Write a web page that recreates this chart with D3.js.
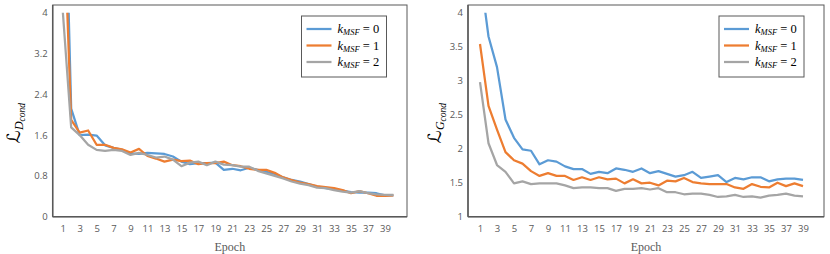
<!DOCTYPE html>
<head>
  <meta charset="utf-8" />
  <title>loss curves</title>
  <script src="https://d3js.org/d3.v7.min.js"></script>
  <style>
    body { margin: 0; background: #fff; }
    svg { display: block; }
    .tick text { font-family: "Open Sans", "Liberation Sans", sans-serif; font-size: 9.5px; fill: #595959; }
    .serif { font-family: "Liberation Serif", "DejaVu Serif", serif; }
  </style>
</head>
<body>
<script>
  const seriesNames = ["0", "1", "2"];
  const colors = ["#5b9bd5", "#ed7d31", "#a5a5a5"];

  // left chart: L_D_cond, 40 epochs
  const dEpochs = d3.range(1, 41);
  const dBlue = [8.5, 2.12, 1.6, 1.61, 1.59, 1.4, 1.35, 1.31, 1.24, 1.23, 1.25, 1.24, 1.23, 1.18, 1.08, 1.03, 1.05, 1.05, 1.06, 0.92,
    0.94, 0.91, 0.96, 0.92, 0.88, 0.84, 0.77, 0.72, 0.69, 0.64, 0.59, 0.56, 0.54, 0.51, 0.48, 0.47, 0.47, 0.46, 0.42, 0.42];
  const dOrange = [6.5, 1.9, 1.65, 1.69, 1.41, 1.41, 1.35, 1.32, 1.26, 1.33, 1.19, 1.14, 1.08, 1.12, 1.09, 1.1, 1.03, 1.05, 1.05, 1.08,
    1.01, 0.99, 0.94, 0.92, 0.92, 0.86, 0.77, 0.72, 0.67, 0.64, 0.6, 0.58, 0.56, 0.52, 0.46, 0.5, 0.46, 0.41, 0.41, 0.42];
  const dGray = [4.05, 1.75, 1.6, 1.41, 1.31, 1.29, 1.31, 1.29, 1.21, 1.25, 1.21, 1.16, 1.18, 1.12, 0.99, 1.06, 1.08, 1.01, 1.08, 1.02,
    1.01, 0.98, 0.98, 0.9, 0.85, 0.8, 0.75, 0.69, 0.65, 0.62, 0.57, 0.56, 0.52, 0.49, 0.47, 0.5, 0.46, 0.44, 0.43, 0.43];
  const dTicks = [0, 0.8, 1.6, 2.4, 3.2, 4];

  // right chart: L_G_cond, 39 epochs
  const gEpochs = d3.range(1, 40);
  const gBlue = [4.6, 3.65, 3.2, 2.43, 2.16, 1.99, 1.97, 1.77, 1.83, 1.81, 1.74, 1.7, 1.7, 1.63, 1.66, 1.64, 1.71, 1.69, 1.66, 1.71,
    1.64, 1.67, 1.63, 1.59, 1.61, 1.66, 1.57, 1.59, 1.61, 1.51, 1.57, 1.55, 1.58, 1.58, 1.52, 1.55, 1.56, 1.56, 1.54];
  const gOrange = [3.54, 2.63, 2.28, 1.95, 1.83, 1.78, 1.67, 1.6, 1.64, 1.6, 1.6, 1.54, 1.58, 1.54, 1.58, 1.55, 1.56, 1.49, 1.55, 1.49,
    1.5, 1.46, 1.53, 1.52, 1.57, 1.51, 1.49, 1.48, 1.48, 1.48, 1.43, 1.41, 1.48, 1.44, 1.43, 1.5, 1.45, 1.49, 1.45];
  const gGray = [2.98, 2.08, 1.76, 1.66, 1.49, 1.52, 1.48, 1.49, 1.49, 1.49, 1.46, 1.42, 1.43, 1.43, 1.42, 1.42, 1.38, 1.41, 1.41, 1.42,
    1.4, 1.42, 1.36, 1.36, 1.33, 1.34, 1.34, 1.32, 1.29, 1.3, 1.32, 1.29, 1.3, 1.28, 1.31, 1.32, 1.34, 1.31, 1.3];
  const gTicks = [1, 1.5, 2, 2.5, 3, 3.5, 4];

  const svg = d3.select("body").append("svg").attr("width", 830).attr("height", 254);

  function drawChart(cfg) {
    const g = svg.append("g");
    const x = d3.scalePoint(cfg.epochs, [cfg.x0, cfg.x1]);
    const y = d3.scaleLinear(cfg.domain, [216.7, 12.7]);

    // frame
    g.append("rect")
      .attr("x", cfg.left).attr("y", 5)
      .attr("width", cfg.right - cfg.left).attr("height", 216.7 - 5)
      .attr("fill", "none").attr("stroke", "#595959").attr("stroke-width", 1);

    const clipId = "clip" + cfg.id;
    g.append("clipPath").attr("id", clipId).append("rect")
      .attr("x", cfg.left).attr("y", 12.7)
      .attr("width", cfg.right - cfg.left).attr("height", 204);

    const line = d3.line().x((d, i) => x(cfg.epochs[i])).y((d) => y(d));
    g.append("g").attr("clip-path", `url(#${clipId})`)
      .selectAll("path").data(cfg.series).join("path")
      .attr("d", (d) => line(d))
      .attr("fill", "none")
      .attr("stroke", (d, i) => colors[i])
      .attr("stroke-width", 2.25)
      .attr("stroke-linejoin", "round");

    // axes
    const yAxis = d3.axisLeft(y).tickValues(cfg.yTicks).tickSize(0).tickPadding(5)
      .tickFormat(d3.format("~g"));
    g.append("g").attr("transform", `translate(${cfg.left},0)`).call(yAxis)
      .call((s) => s.select(".domain").attr("stroke", "#595959").attr("stroke-width", 1.5).attr("d", `M0,5V216.7`));

    const xAxis = d3.axisBottom(x).tickValues(cfg.epochs.filter((e) => e % 2 === 1)).tickSize(0).tickPadding(9);
    g.append("g").attr("transform", "translate(0,216.7)").call(xAxis)
      .call((s) => s.select(".domain").attr("stroke", "#595959").attr("stroke-width", 1.5)
        .attr("d", `M${cfg.left},0H${cfg.right}`));

    // axis titles
    g.append("text").attr("class", "serif")
      .attr("x", (cfg.left + cfg.right) / 2).attr("y", 251)
      .attr("text-anchor", "middle").attr("font-size", 12).attr("fill", "#595959")
      .text("Epoch");

    const yt = g.append("text").attr("class", "serif")
      .attr("transform", `translate(${cfg.titleX},123) rotate(-90)`)
      .attr("text-anchor", "middle").attr("fill", "#000");
    yt.append("tspan").attr("font-family", "DejaVu Sans").attr("font-size", 18).text("ℒ");
    yt.append("tspan").attr("font-size", 12).attr("font-style", "italic").attr("dy", 3).text(cfg.sub);
    yt.append("tspan").attr("font-size", 9.5).attr("font-style", "italic").attr("dy", 2).text("cond");

    // legend
    const lg = g.append("g").attr("transform", `translate(${cfg.legX},16)`);
    lg.append("rect").attr("width", 85).attr("height", 61)
      .attr("fill", "#fff").attr("stroke", "#595959").attr("stroke-width", 1);
    const row = lg.selectAll("g").data(seriesNames).join("g")
      .attr("transform", (d, i) => `translate(0,${13 + i * 16.5})`);
    row.append("line").attr("x1", 5).attr("x2", 30)
      .attr("stroke", (d, i) => colors[i]).attr("stroke-width", 2.25);
    const t = row.append("text").attr("class", "serif").attr("x", 36).attr("y", 4)
      .attr("font-size", 12.5).attr("fill", "#000");
    t.append("tspan").attr("font-style", "italic").text("k");
    t.append("tspan").attr("font-style", "italic").attr("font-size", 8.5).attr("dy", 2).text("MSF");
    t.append("tspan").attr("dy", -2).text((d) => " = " + d);
  }

  drawChart({
    id: "d", epochs: dEpochs, series: [dBlue, dOrange, dGray], domain: [0, 4], yTicks: dTicks,
    left: 52.7, right: 407, x0: 62.7, x1: 393.4, titleX: 20, sub: "D", legX: 301.5
  });
  drawChart({
    id: "g", epochs: gEpochs, series: [gBlue, gOrange, gGray], domain: [1, 4], yTicks: gTicks,
    left: 468, right: 824, x0: 480, x1: 803, titleX: 441, sub: "G", legX: 719
  });
</script>
</body>
